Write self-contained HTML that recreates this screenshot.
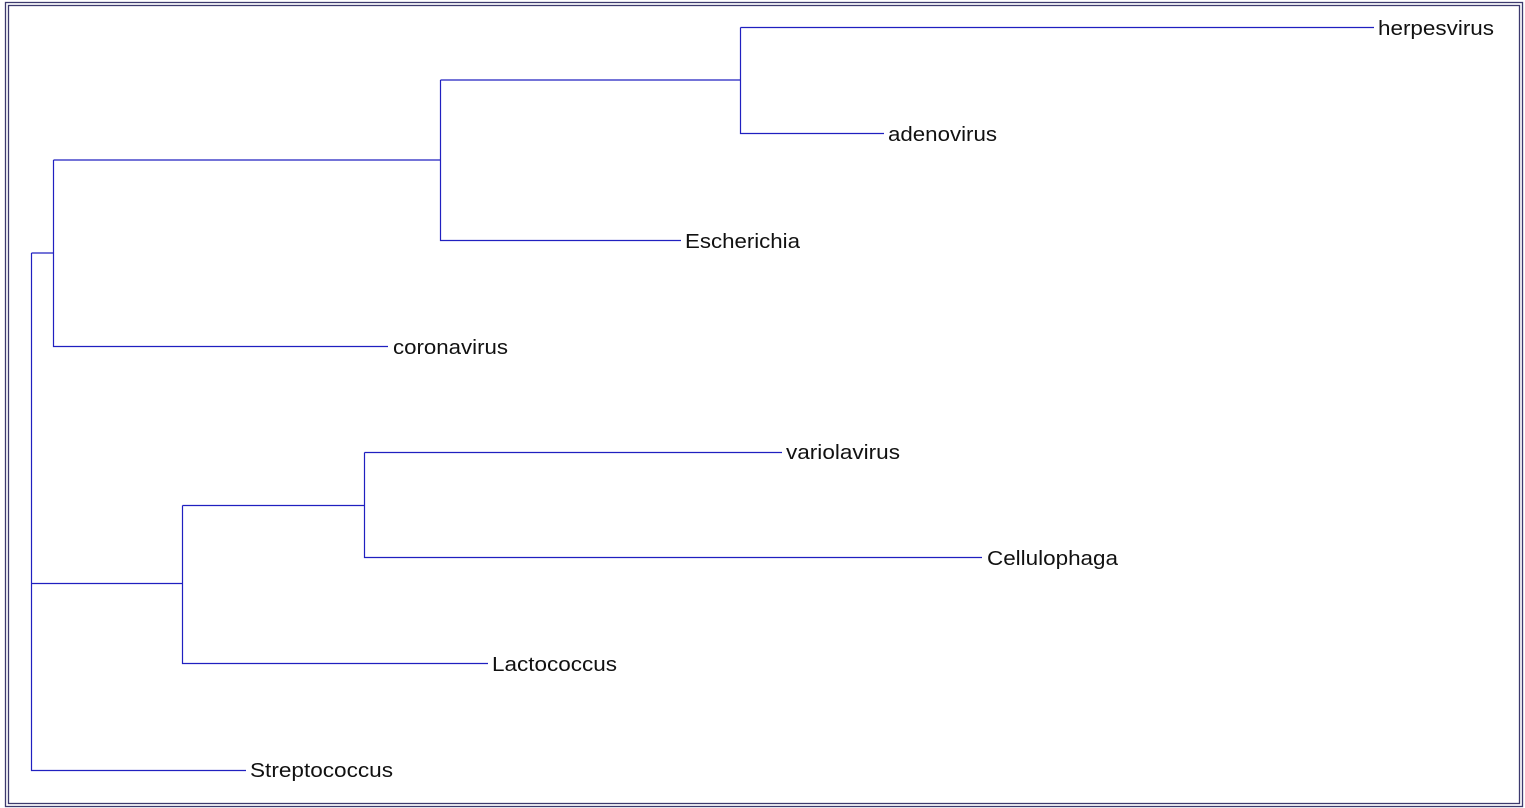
<!DOCTYPE html>
<html><head><meta charset="utf-8"><style>
html,body{margin:0;padding:0;background:#fff;}
svg{display:block}
text{font-family:"Liberation Sans",sans-serif;font-size:20px;fill:#111;dominant-baseline:central}
</style></head><body>
<svg width="1525" height="808" xmlns="http://www.w3.org/2000/svg">
<rect x="5.5" y="2.5" width="1517" height="804" fill="none" stroke="#3c3a6e" stroke-width="1.3"/>
<rect x="8.5" y="5.5" width="1511" height="798" fill="none" stroke="#3c3a6e" stroke-width="1.3"/>
<g stroke="#2020c0" stroke-width="1.2" fill="none">
<path d="M31.5 253V770.5H246"/>
<path d="M31.5 253H53.5"/>
<path d="M53.5 160V346.5H388"/>
<path d="M53.5 160H440"/>
<path d="M440.5 80V240.5H681"/>
<path d="M440.5 80H740"/>
<path d="M740.5 27.5V133.5H884"/>
<path d="M740.5 27.5H1374"/>
<path d="M31.5 583.5H182.5"/>
<path d="M182.5 505.5V663.5H488"/>
<path d="M182.5 505.5H364.5"/>
<path d="M364.5 452.5V557.5H982"/>
<path d="M364.5 452.5H782"/>
</g>
<text x="1378" y="29" textLength="116" lengthAdjust="spacingAndGlyphs">herpesvirus</text>
<text x="888" y="135" textLength="109" lengthAdjust="spacingAndGlyphs">adenovirus</text>
<text x="685" y="242" textLength="115" lengthAdjust="spacingAndGlyphs">Escherichia</text>
<text x="393" y="348" textLength="115" lengthAdjust="spacingAndGlyphs">coronavirus</text>
<text x="786" y="453" textLength="114" lengthAdjust="spacingAndGlyphs">variolavirus</text>
<text x="987" y="559" textLength="131" lengthAdjust="spacingAndGlyphs">Cellulophaga</text>
<text x="492" y="665" textLength="125" lengthAdjust="spacingAndGlyphs">Lactococcus</text>
<text x="250" y="771" textLength="143" lengthAdjust="spacingAndGlyphs">Streptococcus</text>
</svg>
</body></html>
